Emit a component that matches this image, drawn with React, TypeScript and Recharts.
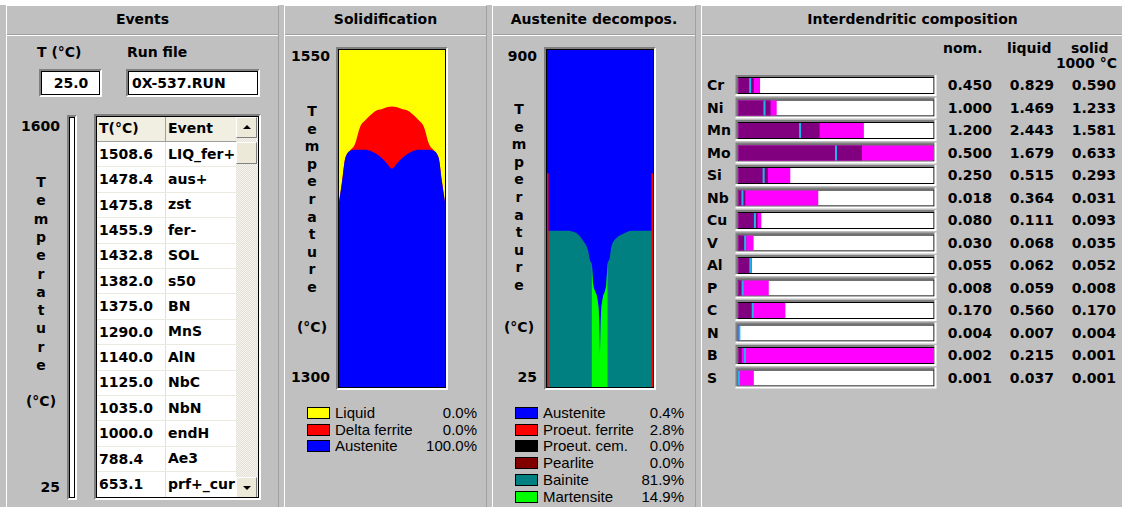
import React from "react";
import { AreaChart, Area, BarChart, Bar, XAxis, YAxis } from "recharts";

const BOLD = "bold 14px 'DejaVu Sans', Verdana, sans-serif";
const THIN = "15px 'Liberation Sans', Arial, sans-serif";

// run state
const currentTemp = "25.0";
const runFile = "0X-537.RUN";

// event list (temperature, event)
const eventTemps = [1508.6, 1478.4, 1475.8, 1455.9, 1432.8, 1382.0, 1375.0, 1290.0, 1140.0, 1125.0, 1035.0, 1000.0, 788.4, 653.1];
const eventNames = ["LIQ_fer+", "aus+", "zst", "fer-", "SOL", "s50", "BN", "MnS", "AlN", "NbC", "NbN", "endH", "Ae3", "prf+_cur"];

// solidification map: position across the dendrite arm vs temperature
const solidPos = [0, 0.03, 0.06, 0.1, 0.15, 0.2, 0.25, 0.3, 0.35, 0.4, 0.45, 0.5, 0.55, 0.6, 0.65, 0.7, 0.75, 0.8, 0.85, 0.9, 0.94, 0.97, 1];
const liquidTop = 1550;
const deltaTop = [1437, 1453, 1470, 1475, 1480, 1493, 1498, 1502, 1505, 1506, 1507.5, 1508, 1507.5, 1506, 1505, 1502, 1498, 1493, 1480, 1475, 1470, 1453, 1437];
const austeniteTop = [1437, 1453, 1470, 1475, 1476, 1476, 1476, 1475, 1473, 1470, 1466, 1462, 1466, 1470, 1473, 1475, 1476, 1476, 1476, 1475, 1470, 1453, 1437];
const solidRange = [1300, 1550];

const solidPhases = ["Liquid", "Delta ferrite", "Austenite"];
const solidShares = [0.0, 0.0, 100.0];
const solidColors = ["#ffff00", "#ff0000", "#0000ff"];

// austenite decomposition map
const decompPos = [0, 0.015, 0.03, 0.1, 0.2, 0.28, 0.34, 0.388, 0.407, 0.423, 0.435, 0.455, 0.473, 0.49, 0.5, 0.51, 0.527, 0.545, 0.56, 0.571, 0.59, 0.61, 0.66, 0.72, 0.8, 0.9, 0.97, 0.985, 1];
const austeniteLimit = 900;
const bainiteTop = [431, 431, 431, 431, 431, 424, 405, 379, 353, 345, 293, 272, 257, 215, 111, 215, 257, 272, 293, 345, 358, 392, 413, 423, 431, 431, 431, 431, 431];
const martensiteTop = [null, null, null, null, null, null, null, null, null, 345, 293, 272, 257, 215, 111, 215, 257, 272, 293, 345, null, null, null, null, null, null, null, null, null];
const ferriteTop = [580, 580, null, null, null, null, null, null, null, null, null, null, null, null, null, null, null, null, null, null, null, null, null, null, null, null, null, 580, 580];
const decompRange = [25, 900];

const decompPhases = ["Austenite", "Proeut. ferrite", "Proeut. cem.", "Pearlite", "Bainite", "Martensite"];
const decompShares = [0.4, 2.8, 0.0, 0.0, 81.9, 14.9];
const decompColors = ["#0000ff", "#ff0000", "#000000", "#800000", "#008080", "#00ff00"];

// interdendritic composition (wt%)
const elements = ["Cr", "Ni", "Mn", "Mo", "Si", "Nb", "Cu", "V", "Al", "P", "C", "N", "B", "S"];
const nominal = [0.45, 1.0, 1.2, 0.5, 0.25, 0.018, 0.08, 0.03, 0.055, 0.008, 0.17, 0.004, 0.002, 0.001];
const liquidConc = [0.829, 1.469, 2.443, 1.679, 0.515, 0.364, 0.111, 0.068, 0.062, 0.059, 0.56, 0.007, 0.215, 0.037];
const solidConc = [0.59, 1.233, 1.581, 0.633, 0.293, 0.031, 0.093, 0.035, 0.052, 0.008, 0.17, 0.004, 0.001, 0.001];
const fullScale = [7.5, 7.5, 3.8, 1.0, 1.94, 0.89, 0.95, 0.88, 0.9, 0.38, 2.33, 0.9, 0.06, 0.47];

const solidRows = solidPos.map((p, i) => ({ p, liquid: liquidTop, delta: deltaTop[i], aus: austeniteTop[i] }));
const decompRows = decompPos.map((p, i) => ({
  p,
  aus: austeniteLimit,
  bai: bainiteTop[i],
  mar: martensiteTop[i],
  fer: ferriteTop[i],
}));
const compRows = elements.map((el, i) => ({
  el,
  track: 1,
  liq: Math.min(1, liquidConc[i] / fullScale[i]),
  sol: Math.min(1, solidConc[i] / fullScale[i]),
  nom: Math.min(1, nominal[i] / fullScale[i]),
}));

type TxtProps = { x: number; y: number; align?: "left" | "right" | "center"; font?: string; children: React.ReactNode };

function Txt({ x, y, align = "left", font = BOLD, children }: TxtProps) {
  const w = 220;
  const style: React.CSSProperties = {
    position: "absolute",
    top: y - 9,
    height: 18,
    lineHeight: "18px",
    whiteSpace: "nowrap",
    font,
    color: "#000",
  };
  if (align === "left") style.left = x;
  else if (align === "right") Object.assign(style, { left: x - w, width: w, textAlign: "right" });
  else Object.assign(style, { left: x - w / 2, width: w, textAlign: "center" });
  return <div style={style}>{children}</div>;
}

function Sunken({ left, top, width, height, bg = "#fff", children }: any) {
  return (
    <div
      style={{
        position: "absolute",
        left,
        top,
        width,
        height,
        boxSizing: "border-box",
        borderStyle: "solid",
        borderWidth: 2,
        borderColor: "#808080 #ffffff #ffffff #808080",
      }}
    >
      <div style={{ position: "absolute", inset: 0, border: "1px solid #000", background: bg, overflow: "hidden" }}>
        {children}
      </div>
    </div>
  );
}

function Temperature({ cx, top, step, unitY }: { cx: number; top: number; step: number; unitY: number }) {
  return (
    <>
      {"Temperature".split("").map((ch, i) => (
        <Txt key={i} x={cx} y={top + i * step} align="center">
          {ch}
        </Txt>
      ))}
      <Txt x={cx} y={unitY} align="center">
        (°C)
      </Txt>
    </>
  );
}

const panels = [
  { left: 6, right: 279, title: "Events" },
  { left: 284, right: 487, title: "Solidification" },
  { left: 492, right: 696, title: "Austenite decompos." },
  { left: 701, right: 1124, title: "Interdendritic composition" },
];

function Panel({ left, right, title }: { left: number; right: number; title: string }) {
  return (
    <>
      <div
        style={{
          position: "absolute",
          left,
          top: 5,
          width: right - left,
          height: 502,
          boxSizing: "border-box",
          borderLeft: "1px solid #fff",
          borderTop: "1px solid #fff",
          borderRight: "1px solid #a0a0a0",
        }}
      />
      <div style={{ position: "absolute", left: left + 1, top: 34, width: right - left - 2, height: 1, background: "#a0a0a0" }} />
      <div style={{ position: "absolute", left: left + 1, top: 35, width: right - left - 2, height: 1, background: "#fff" }} />
      <Txt x={(left + right) / 2} y={20} align="center">
        {title}
      </Txt>
    </>
  );
}

function Legend({ x, labelX, pctX, top, names, shares, colors }: any) {
  return (
    <>
      {names.map((n: string, i: number) => {
        const cy = top + i * 16.8;
        return (
          <React.Fragment key={n}>
            <div
              style={{
                position: "absolute",
                left: x,
                top: cy - 6,
                width: 23,
                height: 12,
                boxSizing: "border-box",
                border: "1px solid #000",
                background: colors[i],
              }}
            />
            <Txt x={labelX} y={cy} font={THIN}>
              {n}
            </Txt>
            <Txt x={pctX} y={cy} align="right" font={THIN}>
              {shares[i].toFixed(1)}%
            </Txt>
          </React.Fragment>
        );
      })}
    </>
  );
}

function EventsPanel() {
  const rowH = 25.4;
  return (
    <>
      <Txt x={37} y={53}>T (°C)</Txt>
      <Txt x={127} y={53}>Run file</Txt>
      <Sunken left={39} top={69} width={63} height={28}>
        <Txt x={29} y={12} align="center">{currentTemp}</Txt>
      </Sunken>
      <Sunken left={126} top={69} width={134} height={28}>
        <Txt x={3} y={12}>{runFile}</Txt>
      </Sunken>

      <Txt x={60} y={127} align="right">1600</Txt>
      <Temperature cx={41} top={183} step={18.3} unitY={402} />
      <Txt x={60} y={488} align="right">25</Txt>
      <Sunken left={67} top={115} width={10} height={385} />

      <Sunken left={94} top={114} width={167} height={386}>
        <div style={{ position: "absolute", left: 0, top: 0, width: 139, height: 25, background: "#f1efe2", borderBottom: "1px solid #a0a0a0", boxSizing: "border-box" }} />
        <div style={{ position: "absolute", left: 68, top: 0, width: 1, height: 400, background: "#e4e2d8" }} />
        <div style={{ position: "absolute", left: 68, top: 0, width: 1, height: 25, background: "#a0a0a0" }} />
        <Txt x={2} y={12}>T(°C)</Txt>
        <Txt x={71} y={12}>Event</Txt>
        {eventTemps.map((t, i) => {
          const top = 25 + i * rowH;
          return (
            <React.Fragment key={i}>
              <div style={{ position: "absolute", left: 0, top: top + rowH - 1, width: 139, height: 1, background: "#ebe9e0" }} />
              <Txt x={2} y={top + rowH / 2}>{t.toFixed(1)}</Txt>
              <div style={{ position: "absolute", left: 69, top, width: 70, height: rowH, overflow: "hidden" }}>
                <Txt x={2} y={rowH / 2}>{eventNames[i]}</Txt>
              </div>
            </React.Fragment>
          );
        })}
        {/* scroll bar */}
        <div
          style={{
            position: "absolute",
            left: 139,
            top: 0,
            width: 22,
            height: 400,
            background: "repeating-conic-gradient(#f6f5f0 0% 25%, #e2e0d6 0% 50%) 0 0 / 2px 2px",
          }}
        />
        {[0, 25, 360].map((t, i) => (
          <div
            key={i}
            style={{
              position: "absolute",
              left: 139,
              top: t,
              width: 21,
              height: i === 1 ? 22 : 21,
              boxSizing: "border-box",
              background: "#ece9d8",
              borderStyle: "solid",
              borderWidth: 1,
              borderColor: "#fff #808080 #808080 #fff",
            }}
          >
            {i !== 1 && (
              <div
                style={{
                  position: "absolute",
                  left: 6,
                  top: i === 0 ? 7 : 8,
                  width: 0,
                  height: 0,
                  borderLeft: "4px solid transparent",
                  borderRight: "4px solid transparent",
                  ...(i === 0 ? { borderBottom: "4px solid #000" } : { borderTop: "4px solid #000" }),
                }}
              />
            )}
          </div>
        ))}
      </Sunken>
    </>
  );
}

function SolidificationPanel() {
  return (
    <>
      <Txt x={330} y={57} align="right">1550</Txt>
      <Temperature cx={312} top={112} step={17.6} unitY={328} />
      <Txt x={330} y={378} align="right">1300</Txt>
      <Sunken left={336} top={47} width={112} height={343}>
        <AreaChart width={106} height={337} data={solidRows} margin={{ top: 0, right: 0, bottom: 0, left: 0 }}>
          <XAxis dataKey="p" type="number" domain={[0, 1]} hide />
          <YAxis type="number" domain={solidRange} hide allowDataOverflow />
          <Area dataKey="liquid" type="linear" stroke="none" fill="#ffff00" fillOpacity={1} isAnimationActive={false} />
          <Area dataKey="delta" type="monotone" stroke="none" fill="#ff0000" fillOpacity={1} isAnimationActive={false} />
          <Area dataKey="aus" type="monotone" stroke="none" fill="#0000ff" fillOpacity={1} isAnimationActive={false} />
        </AreaChart>
      </Sunken>
      <Legend x={307} labelX={335} pctX={477} top={412.7} names={solidPhases} shares={solidShares} colors={solidColors} />
    </>
  );
}

function DecompPanel() {
  return (
    <>
      <Txt x={537} y={57} align="right">900</Txt>
      <Temperature cx={519} top={110} step={17.6} unitY={328} />
      <Txt x={537} y={378} align="right">25</Txt>
      <Sunken left={544} top={47} width={112} height={343}>
        <AreaChart width={106} height={337} data={decompRows} margin={{ top: 0, right: 0, bottom: 0, left: 0 }}>
          <XAxis dataKey="p" type="number" domain={[0, 1]} hide />
          <YAxis type="number" domain={decompRange} hide allowDataOverflow />
          <Area dataKey="aus" type="linear" stroke="none" fill="#0000ff" fillOpacity={1} isAnimationActive={false} />
          <Area dataKey="bai" type="monotone" stroke="none" fill="#008080" fillOpacity={1} isAnimationActive={false} />
          <Area dataKey="mar" type="monotone" stroke="none" fill="#00ff00" fillOpacity={1} isAnimationActive={false} />
          <Area dataKey="fer" type="linear" stroke="none" fill="#ff0000" fillOpacity={1} isAnimationActive={false} />
        </AreaChart>
      </Sunken>
      <Legend x={515} labelX={543} pctX={684} top={412.7} names={decompPhases} shares={decompShares} colors={decompColors} />
    </>
  );
}

const TrackShape = (p: any) => {
  const { x, y, width, height } = p;
  return (
    <g>
      <rect x={x} y={y} width={width} height={height} fill="#fff" />
      <rect x={x - 0.5} y={y - 0.5} width={width + 1} height={height + 1} fill="none" stroke="#000" />
      <path d={`M${x - 2} ${y + height + 2} V${y - 2} H${x + width + 2}`} stroke="#808080" strokeWidth={2} fill="none" />
      <path d={`M${x - 3} ${y + height + 2} H${x + width + 2} V${y - 3}`} stroke="#fff" strokeWidth={2} fill="none" />
    </g>
  );
};

const NomShape = (p: any) => <rect x={p.x + p.width - 1} y={p.y} width={2} height={p.height} fill="#22b4e8" />;

const NameTick = (p: any) => (
  <text x={10} y={p.y} dy={5} style={{ font: BOLD }} fill="#000">
    {p.payload.value}
  </text>
);

const ValueTick = (p: any) => {
  const i = elements.indexOf(p.payload.value);
  const cols = [nominal[i], liquidConc[i], solidConc[i]];
  return (
    <g>
      {cols.map((v, k) => (
        <text key={k} x={295 + k * 62} y={p.y} dy={5} textAnchor="end" style={{ font: BOLD }} fill="#000">
          {v.toFixed(3)}
        </text>
      ))}
    </g>
  );
};

function CompositionPanel() {
  return (
    <>
      <Txt x={943} y={49}>nom.</Txt>
      <Txt x={1007} y={49}>liquid</Txt>
      <Txt x={1071} y={49}>solid</Txt>
      <Txt x={1117} y={64} align="right">1000 °C</Txt>
      <div style={{ position: "absolute", left: 697, top: 70 }}>
        <BarChart layout="vertical" width={425} height={323} data={compRows} margin={{ top: 4, right: 0, bottom: 4, left: 0 }}>
          <XAxis type="number" domain={[0, 1]} hide />
          <YAxis yAxisId="names" type="category" dataKey="el" width={41.5} axisLine={false} tickLine={false} interval={0} tick={NameTick} />
          <YAxis yAxisId="vals" orientation="right" type="category" dataKey="el" width={188.5} axisLine={false} tickLine={false} interval={0} tick={ValueTick} />
          <YAxis yAxisId="sol" type="category" dataKey="el" hide />
          <YAxis yAxisId="nom" type="category" dataKey="el" hide />
          <Bar yAxisId="names" dataKey="track" barSize={15} shape={TrackShape} isAnimationActive={false} />
          <Bar yAxisId="vals" dataKey="liq" barSize={15} fill="#ff00ff" isAnimationActive={false} />
          <Bar yAxisId="sol" dataKey="sol" barSize={15} fill="#800080" isAnimationActive={false} />
          <Bar yAxisId="nom" dataKey="nom" barSize={15} shape={NomShape} isAnimationActive={false} />
        </BarChart>
      </div>
    </>
  );
}

export default function App() {
  return (
    <div style={{ position: "absolute", left: 0, top: 0, width: 1122, height: 511, background: "#fff", overflow: "hidden" }}>
      <div style={{ position: "absolute", left: 0, top: 5, width: 1122, height: 502, background: "#c0c0c0" }} />
      {panels.map((p) => (
        <Panel key={p.title} {...p} />
      ))}
      <EventsPanel />
      <SolidificationPanel />
      <DecompPanel />
      <CompositionPanel />
    </div>
  );
}
